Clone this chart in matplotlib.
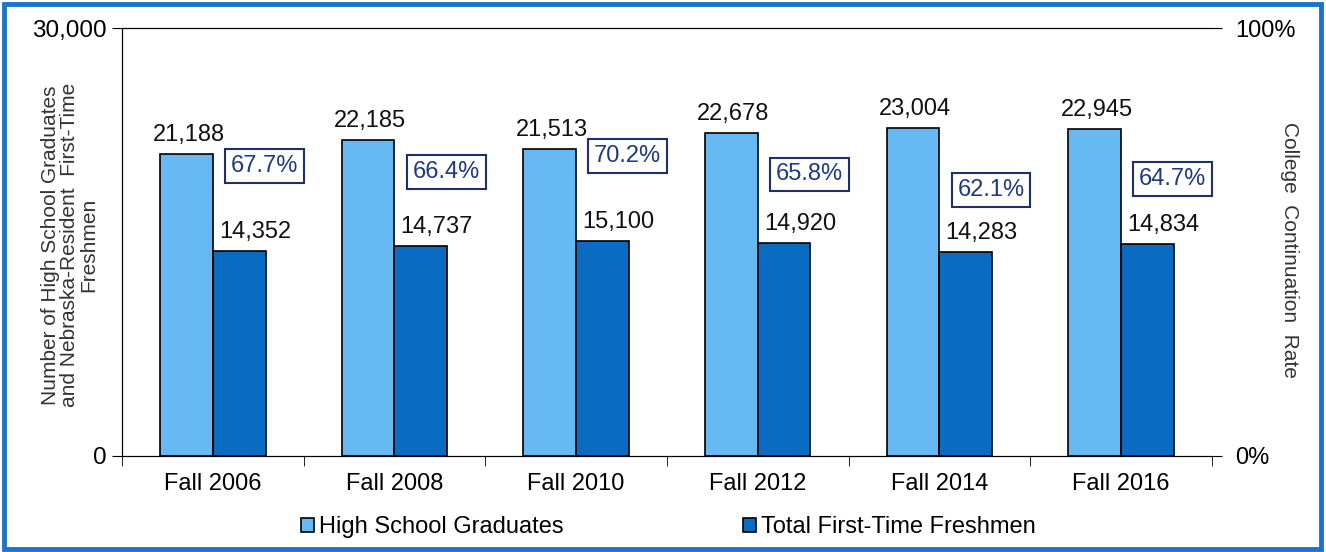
import matplotlib
matplotlib.use("Agg")
import matplotlib.pyplot as plt
from matplotlib.patches import Rectangle
import numpy as np

categories = ["Fall 2006", "Fall 2008", "Fall 2010", "Fall 2012", "Fall 2014", "Fall 2016"]
hs_grads = [21188, 22185, 21513, 22678, 23004, 22945]
freshmen = [14352, 14737, 15100, 14920, 14283, 14834]
rates = [67.7, 66.4, 70.2, 65.8, 62.1, 64.7]

plt.rcParams['font.family'] = ['Liberation Sans', 'DejaVu Sans']

fig = plt.figure(figsize=(13.26, 5.52), dpi=100)
ax = fig.add_axes([0.092, 0.174, 0.822, 0.775])
ax2 = ax.twinx()

x = np.arange(len(categories))
w = 0.29
light = '#66b9f2'
dark = '#0a6bc2'
ax.bar(x - w/2, hs_grads, w, color=light, edgecolor='black', linewidth=1.2, label='High School Graduates', zorder=3)
ax.bar(x + w/2, freshmen, w, color=dark, edgecolor='black', linewidth=1.2, label='Total First-Time Freshmen', zorder=3)

for xi, v in zip(x, hs_grads):
    ax.annotate(f"{v:,}", xy=(xi - w/2, v), xytext=(2, 8), textcoords='offset pixels',
                ha='center', va='bottom', fontsize=17, color='#111111')
for xi, v in zip(x, freshmen):
    ax.annotate(f"{v:,}", xy=(xi + w/2, v), xytext=(16, 8), textcoords='offset pixels',
                ha='center', va='bottom', fontsize=17, color='#111111')

ax.set_xlim(-0.5, len(categories) - 0.5)
ax.set_ylim(0, 30000)
ax.set_yticks([0, 30000])
ax.set_yticklabels(["0", "30,000"], fontsize=17.5)
ax.set_xticks(x)
ax.set_xticklabels(categories, fontsize=17)
ax.tick_params(axis='x', length=0, pad=12)
ax.set_xticks(np.arange(len(categories) + 1) - 0.5, minor=True)
ax.tick_params(axis='x', which='minor', length=7, direction='out', color='black')
ax.tick_params(axis='y', length=7, direction='out', pad=4)

ax2.set_ylim(0, 100)
ax2.set_yticks([0, 100])
ax2.set_yticklabels(["0%", "100%"], fontsize=17)
ax2.tick_params(axis='y', length=7, direction='out', pad=10)

for a in (ax, ax2):
    a.spines['right'].set_visible(False)
    a.spines['left'].set_color('black')
    a.spines['top'].set_color('black')
    a.spines['bottom'].set_color('black')

for xi, r in zip(x, rates):
    ax2.annotate(f"{r:.1f}%", xy=(xi, r), xytext=(18, 0), textcoords='offset pixels',
                 ha='left', va='center', fontsize=17, color='#1f3a78',
                 bbox=dict(boxstyle='square,pad=0.25', facecolor='white', edgecolor='#1f2f6a', linewidth=1.5),
                 zorder=5)

fig.text(70/1326, 1 - 245/552,
         "Number of High School Graduates\nand Nebraska-Resident  First-Time\nFreshmen",
         rotation=90, ha='center', va='center', fontsize=15, color='#333333',
         linespacing=1.0, multialignment='center')
fig.text(1290/1326, 1 - 250/552, "College  Continuation  Rate", rotation=270,
         ha='center', va='center', fontsize=15, color='#333333')

fig.legend(loc='center', bbox_to_anchor=(0.504, 0.045), ncol=2, frameon=False, fontsize=17,
           handlelength=0.55, handleheight=0.55, handletextpad=0.2, columnspacing=7.6)

fig.patches.append(Rectangle((0.003, 0.006), 0.993, 0.986, transform=fig.transFigure,
                             fill=False, edgecolor='#1d72cc', linewidth=3.5))

fig.savefig("out.png", dpi=100)
